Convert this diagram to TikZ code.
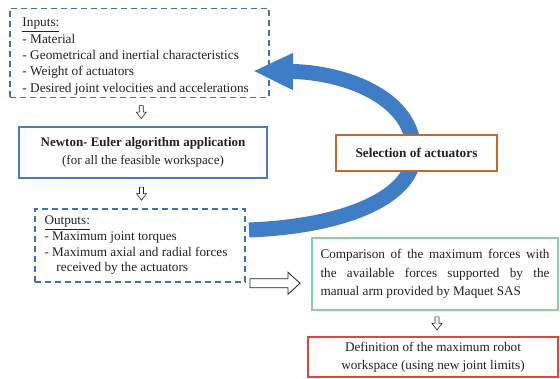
\documentclass[tikz,border=0pt]{standalone}
\usepackage{fontspec}
\setmainfont{Liberation Serif}
\usetikzlibrary{arrows.meta,calc}
\definecolor{dashblue}{HTML}{3F74AE}
\definecolor{nebue}{HTML}{4A7DB8}
\definecolor{selorange}{HTML}{C4692E}
\definecolor{cmpgreen}{HTML}{8ACFA6}
\definecolor{defred}{HTML}{E0443E}
\definecolor{bigarrow}{HTML}{3F7DC6}
\definecolor{txt}{HTML}{222222}
\begin{document}
\begin{tikzpicture}[x=1pt,y=-1pt,
  every node/.style={text=txt},
  dbox/.style={draw=dashblue,line width=1.4pt,dash pattern=on 6pt off 4pt,fill=white,inner sep=0pt},
  sbox/.style={fill=white,align=center,inner sep=0pt},
  listtext/.style={anchor=west,align=left,inner sep=0pt},
  hollow/.style={draw=txt,fill=white,line width=0.6pt,line join=miter},
  downarrow/.pic={\draw[hollow] (-2,-6.5) -- (2,-6.5) -- (2,0) -- (5,0) -- (0,6.5) -- (-5,0) -- (-2,0) -- cycle;},
  rightarrow/.pic={\draw[hollow,line width=0.8pt] (-25,-4.5) -- (13,-4.5) -- (13,-11) -- (25,0) -- (13,11) -- (13,4.5) -- (-25,4.5) -- cycle;}
]
\useasboundingbox (0,0) rectangle (560,379);
\fill[white] (0,0) rectangle (560,379);

% boxes on the left
\node[dbox,minimum width=259pt,minimum height=89pt] (inputs) at (139.5,53) {};
\node[listtext,font=\fontsize{13.3}{16.3}\selectfont] (inputstext) at ($(inputs.west)+(13,3.5)$)
  {\underline{Inputs:}\\- Material\\- Geometrical and inertial characteristics\\- Weight of actuators\\- Desired joint velocities and accelerations};

\node[sbox,draw=nebue,line width=2pt,minimum width=248pt,minimum height=51pt,font=\fontsize{13}{18}\selectfont] (newton) at (143,152.5)
  {\textbf{Newton- Euler algorithm application}\\(for all the feasible workspace)};

\node[dbox,minimum width=210pt,minimum height=73pt] (outputs) at (140,245.5) {};
\node[listtext,font=\fontsize{13.2}{15.7}\selectfont] (outputstext) at ($(outputs.west)+(10,0)$)
  {\underline{Outputs:}\\- Maximum joint torques\\- Maximum axial and radial forces\\\hspace*{12pt}received by the actuators};

% big curved arrow
\coordinate (tail) at (249,230);
\coordinate (bend) at (414,153);
\coordinate (tip) at (253,71);
\draw[bigarrow,line width=15pt,line cap=butt,-{Triangle[width=34pt,length=40pt]}]
  (tail) .. controls (350,226) and (414,195) .. (bend)
  .. controls (414,95) and (340,72) .. (tip);

\node[sbox,draw=selorange,line width=1.8pt,minimum width=161pt,minimum height=36pt,font=\fontsize{13.3}{14}\selectfont\bfseries] (select) at (416.5,153)
  {Selection of actuators};

\node[fill=white,draw=cmpgreen,line width=1.4pt,minimum width=246pt,minimum height=72pt,inner xsep=8.5pt,inner ysep=0pt,text width=229pt,align=justify,font=\fontsize{13.2}{18.5}\selectfont] (compare) at (435,274)
  {Comparison of the maximum forces with\linebreak the available forces supported by the\linebreak manual arm provided by Maquet SAS};

\node[sbox,draw=defred,line width=1.6pt,minimum width=250pt,minimum height=40pt,font=\fontsize{13.2}{18}\selectfont] (define) at (433,357)
  {Definition of the maximum robot\\workspace (using new joint limits)};

% hollow arrows
\pic at ($(inputs.south)!0.5!(newton.north)$) {downarrow};
\pic at ($(newton.south)!0.5!(outputs.north)$) {downarrow};
\pic at ($(compare.south)!0.5!(define.north)+(3,0)$) {downarrow};
\coordinate (rarrowc) at ($(outputs.east)!0.5!(compare.west)+(-3.5,23.5)$);
\pic at (rarrowc) {rightarrow};
\end{tikzpicture}
\end{document}
